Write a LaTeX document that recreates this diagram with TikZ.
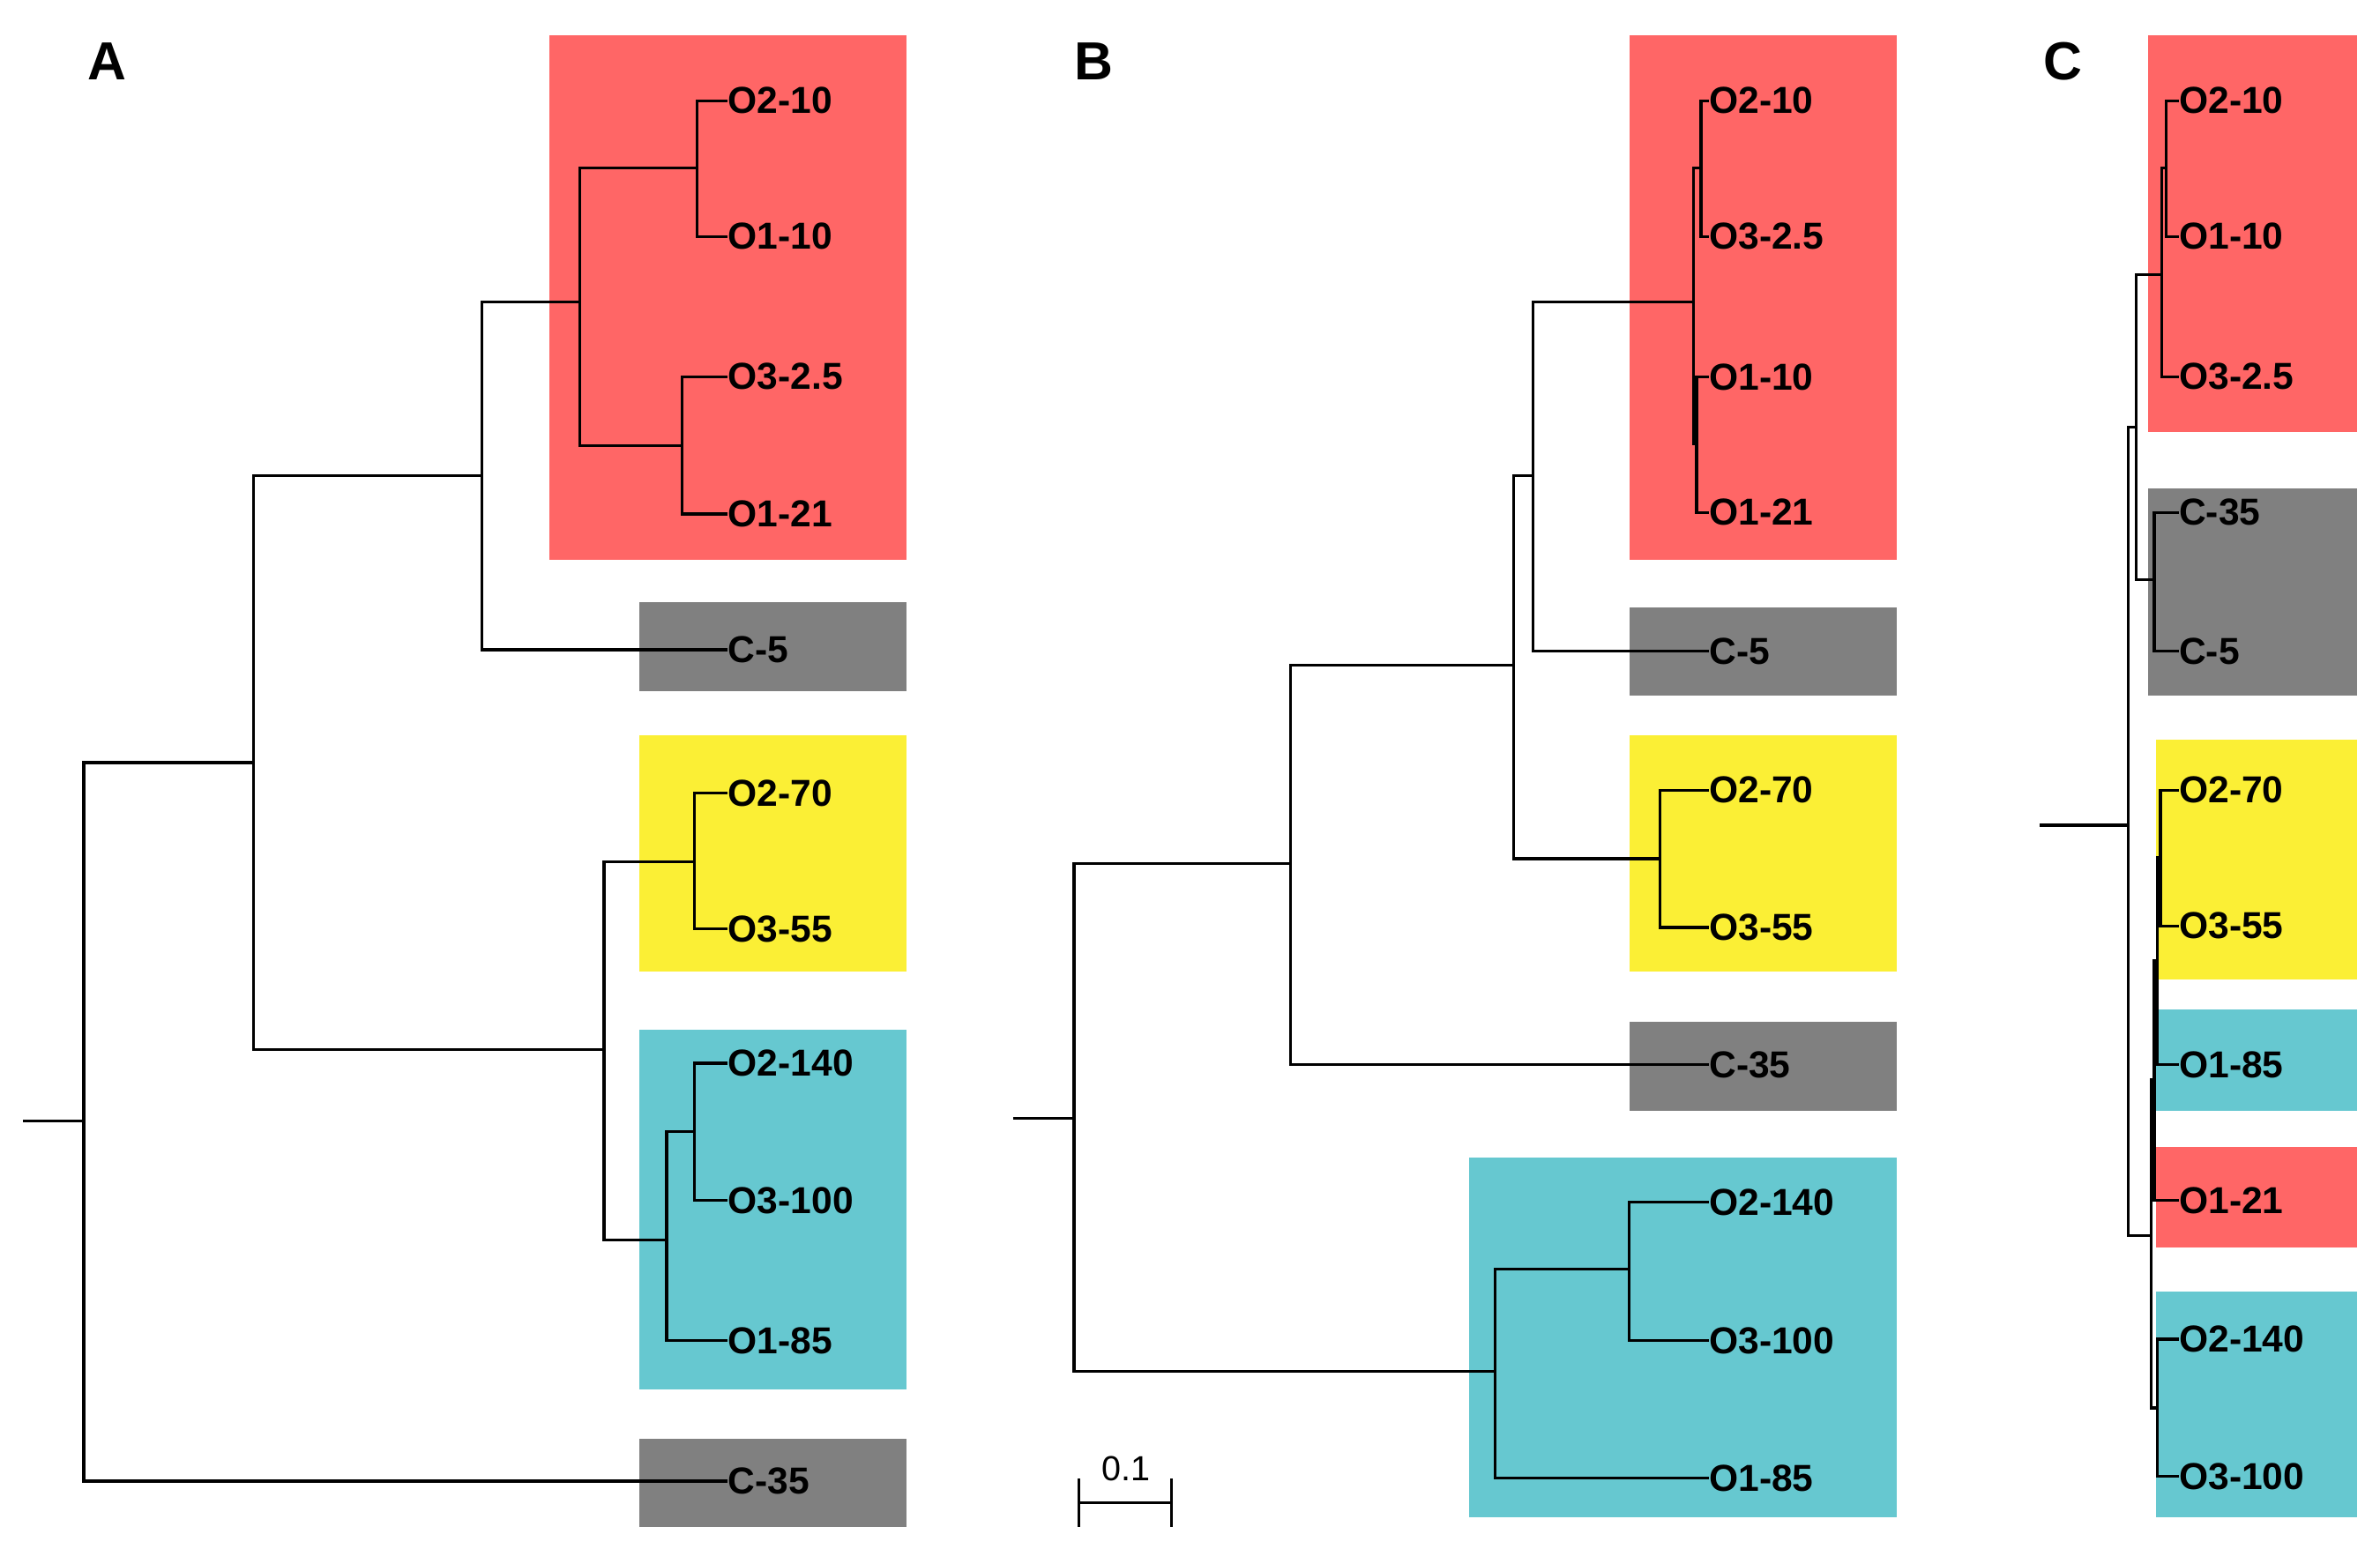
\documentclass[tikz,border=0pt]{standalone}
\usepackage{fontspec}
\setmainfont{Liberation Sans}
\usepackage{xcolor}
\usetikzlibrary{positioning}
\definecolor{cladered}{HTML}{FF6666}
\definecolor{cladegray}{HTML}{808080}
\definecolor{cladeyellow}{HTML}{FBEF35}
\definecolor{cladecyan}{HTML}{66C8D0}
\tikzset{
x=0.02cm, y=-0.02cm, % one unit is one pixel of the figure
branch/.style={line width=1.1pt}, % tree edges
leaf/.style={anchor=west, inner sep=0pt, font=\fontsize{14}{14}\selectfont\bfseries}, % tip labels
panel/.style={font=\fontsize{20}{20}\selectfont\bfseries}, % panel letters
clade/.style={fill=#1, draw=none}, % coloured boxes
}

\begin{document}
\begin{tikzpicture}
        \useasboundingbox (0,0) rectangle (1560,1015);
        % panel A
        \fill[cladered] (360,23) rectangle (594,367);
        \fill[cladegray] (419,395) rectangle (594,453);
        \fill[cladeyellow] (419,482) rectangle (594,637);
        \fill[cladecyan] (419,675) rectangle (594,911);
        \fill[cladegray] (419,943) rectangle (594,1001);
        \node[panel] (pa) at (70,40) {A};
        \node[leaf] (a1) at (477,66) {O2-10};
        \node[leaf] (a2) at (477,155) {O1-10};
        \node[leaf] (a3) at (477,247) {O3-2.5};
        \node[leaf] (a4) at (477,337) {O1-21};
        \node[leaf] (a5) at (477,426) {C-5};
        \node[leaf] (a6) at (477,520) {O2-70};
        \node[leaf] (a7) at (477,609) {O3-55};
        \node[leaf] (a8) at (477,697) {O2-140};
        \node[leaf] (a9) at (477,787) {O3-100};
        \node[leaf] (a10) at (477,879) {O1-85};
        \node[leaf] (a11) at (477,971) {C-35};
        \coordinate (an1) at (457,110);
        \coordinate (an2) at (447,292);
        \coordinate (an3) at (380,198);
        \coordinate (an4) at (316,312);
        \coordinate (an5) at (455,565);
        \coordinate (an6) at (455,742);
        \coordinate (an7) at (437,813);
        \coordinate (an8) at (396,688);
        \coordinate (an9) at (166,500);
        \coordinate (an10) at (55,735);
        \coordinate (as) at (15,735);
        \draw[branch] (an1) |- (a1.west) (an1) |- (a2.west)
              (an2) |- (a3.west) (an2) |- (a4.west)
              (an3) |- (an1) (an3) |- (an2)
              (an4) |- (an3) (an4) |- (a5.west)
              (an5) |- (a6.west) (an5) |- (a7.west)
              (an6) |- (a8.west) (an6) |- (a9.west)
              (an7) |- (an6) (an7) |- (a10.west)
              (an8) |- (an5) (an8) |- (an7)
              (an9) |- (an4) (an9) |- (an8)
              (an10) |- (an9) (an10) |- (a11.west)
              (as) -- (an10);
        % panel B
        \fill[cladered] (1068,23) rectangle (1243,367);
        \fill[cladegray] (1068,398) rectangle (1243,456);
        \fill[cladeyellow] (1068,482) rectangle (1243,637);
        \fill[cladegray] (1068,670) rectangle (1243,728);
        \fill[cladecyan] (963,759) rectangle (1243,995);
        \node[panel] (pb) at (717,40) {B};
        \node[leaf] (b1) at (1120,66) {O2-10};
        \node[leaf] (b2) at (1120,155) {O3-2.5};
        \node[leaf] (b3) at (1120,247) {O1-10};
        \node[leaf] (b4) at (1120,336) {O1-21};
        \node[leaf] (b5) at (1120,427) {C-5};
        \node[leaf] (b6) at (1120,518) {O2-70};
        \node[leaf] (b7) at (1120,608) {O3-55};
        \node[leaf] (b8) at (1120,698) {C-35};
        \node[leaf] (b9) at (1120,788) {O2-140};
        \node[leaf] (b10) at (1120,879) {O3-100};
        \node[leaf] (b11) at (1120,969) {O1-85};
        \coordinate (bn1) at (1115,110);
        \coordinate (bn2) at (1112,291);
        \coordinate (bn3) at (1110,198);
        \coordinate (bn4) at (1005,312);
        \coordinate (bn5) at (1088,563);
        \coordinate (bn6) at (992,436);
        \coordinate (bn7) at (846,566);
        \coordinate (bn8) at (1068,832);
        \coordinate (bn9) at (980,899);
        \coordinate (bn10) at (704,733);
        \coordinate (bs) at (664,733);
        \draw[branch] (bn1) |- (b1.west) (bn1) |- (b2.west)
              (bn2) |- (b3.west) (bn2) |- (b4.west)
              (bn3) |- (bn1) (bn3) |- (bn2)
              (bn4) |- (bn3) (bn4) |- (b5.west)
              (bn5) |- (b6.west) (bn5) |- (b7.west)
              (bn6) |- (bn4) (bn6) |- (bn5)
              (bn7) |- (bn6) (bn7) |- (b8.west)
              (bn8) |- (b9.west) (bn8) |- (b10.west)
              (bn9) |- (bn8) (bn9) |- (b11.west)
              (bn10) |- (bn7) (bn10) |- (bn9)
              (bs) -- (bn10);
        % scale bar
        \coordinate (sl) at (707,985);
        \coordinate (sr) at (768,985);
        \draw[line width=0.9pt] (sl) -- (sr)
              ([yshift=-9]sl) -- ([yshift=9]sl)
              ([yshift=-9]sr) -- ([yshift=9]sr);
        \node[font=\fontsize{13}{13}\selectfont] (sbar) at (738,963) {0.1};
        % panel C
        \fill[cladered] (1408,23) rectangle (1545,283);
        \fill[cladegray] (1408,320) rectangle (1545,456);
        \fill[cladeyellow] (1413,485) rectangle (1545,642);
        \fill[cladecyan] (1413,662) rectangle (1545,728);
        \fill[cladered] (1413,752) rectangle (1545,818);
        \fill[cladecyan] (1413,847) rectangle (1545,995);
        \node[panel] (pc) at (1352,40) {C};
        \node[leaf] (c1) at (1428,66) {O2-10};
        \node[leaf] (c2) at (1428,155) {O1-10};
        \node[leaf] (c3) at (1428,247) {O3-2.5};
        \node[leaf] (c4) at (1428,336) {C-35};
        \node[leaf] (c5) at (1428,427) {C-5};
        \node[leaf] (c6) at (1428,518) {O2-70};
        \node[leaf] (c7) at (1428,607) {O3-55};
        \node[leaf] (c8) at (1428,698) {O1-85};
        \node[leaf] (c9) at (1428,787) {O1-21};
        \node[leaf] (c10) at (1428,878) {O2-140};
        \node[leaf] (c11) at (1428,968) {O3-100};
        \coordinate (cn1) at (1420,110);
        \coordinate (cn2) at (1417,180);
        \coordinate (cn3) at (1412,380);
        \coordinate (cn4) at (1400,280);
        \coordinate (cn5) at (1416,562);
        \coordinate (cn6) at (1414,630);
        \coordinate (cn7) at (1412,708);
        \coordinate (cn8) at (1414,923);
        \coordinate (cn9) at (1410,810);
        \coordinate (cn10) at (1395,541);
        \coordinate (cs) at (1337,541);
        \draw[branch] (cn1) |- (c1.west) (cn1) |- (c2.west)
              (cn2) |- (cn1) (cn2) |- (c3.west)
              (cn3) |- (c4.west) (cn3) |- (c5.west)
              (cn4) |- (cn2) (cn4) |- (cn3)
              (cn5) |- (c6.west) (cn5) |- (c7.west)
              (cn6) |- (cn5) (cn6) |- (c8.west)
              (cn7) |- (cn6) (cn7) |- (c9.west)
              (cn8) |- (c10.west) (cn8) |- (c11.west)
              (cn9) |- (cn7) (cn9) |- (cn8)
              (cn10) |- (cn4) (cn10) |- (cn9)
              (cs) -- (cn10);
\end{tikzpicture}
\end{document}
